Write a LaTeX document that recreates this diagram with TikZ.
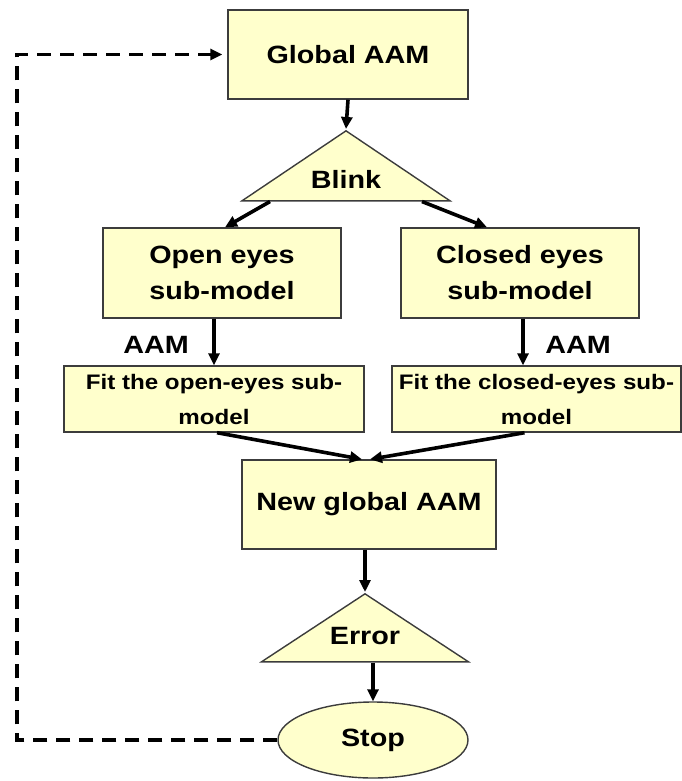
\documentclass[tikz,border=0pt]{standalone}
\usepackage{fontspec}
\setmainfont{Liberation Sans}[FakeStretch=1.15]
\usetikzlibrary{shapes.geometric, arrows.meta}
\definecolor{boxfill}{RGB}{255,255,204}
\definecolor{edge}{RGB}{60,60,60}

\begin{document}
\begin{tikzpicture}[x=1pt, y=-1pt,
  every node/.style={inner sep=0pt, font=\fontsize{25}{36}\selectfont\bfseries},
  box/.style={draw=edge, fill=boxfill, line width=1.4pt, align=center},
  fitbox/.style={box, font=\fontsize{21}{35}\selectfont\bfseries},
  decision/.style={isosceles triangle, isosceles triangle stretches,
                   shape border rotate=90, draw=edge, fill=boxfill, line width=1.4pt},
  stopnode/.style={ellipse, draw=edge, fill=boxfill, line width=1.4pt},
  arrow/.style={-{Triangle[length=12pt, width=11pt]}, line width=3.6pt},
  backarrow/.style={arrow, dash pattern=on 14pt off 9pt, shorten >=5pt}]
\useasboundingbox (0,0) rectangle (681,781);
\node[box, minimum width=240, minimum height=89] (global) at (348,54.5) {Global AAM};
\node[decision, minimum width=208, minimum height=70, anchor=apex] (blink) at (346,129) {};
\node (blinktext) at ([yshift=22]blink.south) {Blink};
\node[box, minimum width=238, minimum height=90] (open) at (222,273) {Open eyes\\sub-model};
\node[box, minimum width=238, minimum height=90] (closed) at (520,273) {Closed eyes\\sub-model};
\node (aamopen) at (156,345) {AAM};
\node (aamclosed) at (578,345) {AAM};
\node[fitbox, minimum width=300, minimum height=66] (fitopen) at (214,399) {Fit the open-eyes sub-\\model};
\node[fitbox, minimum width=289, minimum height=66] (fitclosed) at (536.5,399) {Fit the closed-eyes sub-\\model};
\node[box, minimum width=254, minimum height=89] (newglobal) at (369,504.5) {New global AAM};
\node[decision, minimum width=207, minimum height=68, anchor=apex] (error) at (365,592) {};
\node (errortext) at ([yshift=27]error.south) {Error};
\node[stopnode, minimum width=190, minimum height=76] (stop) at (373,740) {Stop};
\coordinate (loopleft) at (17,0);

\draw[arrow] (global.south) -- (blink.apex);
\draw[arrow] ([xshift=-76]blink.south) -- ([xshift=3]open.north);
\draw[arrow] ([xshift=76]blink.south) -- ([xshift=-33]closed.north);
\draw[arrow] (fitopen.north |- open.south) -- (fitopen.north);
\draw[arrow] ([xshift=3]closed.south) -- ([xshift=3]closed.south |- fitclosed.north);
\draw[arrow] ([xshift=3]fitopen.south) -- ([xshift=-7]newglobal.north);
\draw[arrow] ([xshift=-12]fitclosed.south) -- ([xshift=1]newglobal.north);
\draw[arrow] (newglobal.south -| error.apex) -- (error.apex);
\draw[arrow] (stop.north |- error.south) -- (stop.north);
\draw[backarrow] (stop.west) -| (loopleft |- global.west) -- (global.west);
\end{tikzpicture}
\end{document}
